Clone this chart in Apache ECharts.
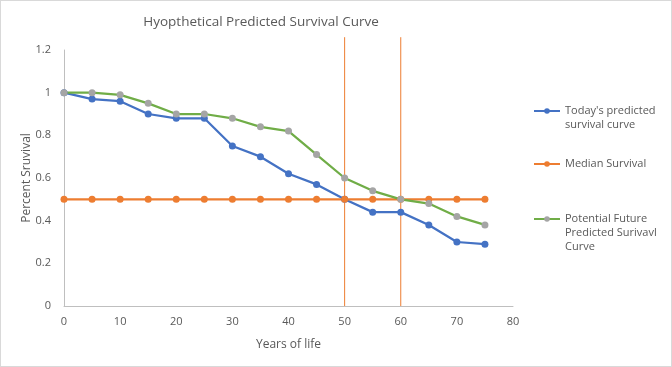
<!DOCTYPE html>
<html><head><meta charset="utf-8">
<script src="https://cdn.jsdelivr.net/npm/echarts@6/dist/echarts.min.js"></script>
<style>html,body{margin:0;padding:0;background:#fff}#c{width:672px;height:367px;box-sizing:border-box;border:1px solid #d9d9d9}</style>
</head><body><div id="c"></div>
<script>
const years = [0,5,10,15,20,25,30,35,40,45,50,55,60,65,70,75];
const todaySurvival = [1,0.97,0.96,0.9,0.88,0.88,0.75,0.7,0.62,0.57,0.5,0.44,0.44,0.38,0.3,0.29];
const medianSurvival = [0.5,0.5,0.5,0.5,0.5,0.5,0.5,0.5,0.5,0.5,0.5,0.5,0.5,0.5,0.5,0.5];
const futureSurvival = [1,1,0.99,0.95,0.9,0.9,0.88,0.84,0.82,0.71,0.6,0.54,0.5,0.48,0.42,0.38];
const markerYears = [50,60];
const markerTop = 1.26;

const font = '"Open Sans", "Liberation Sans", sans-serif';
const txt = '#595959';
const pair = (xs, ys) => xs.map((x,i)=>[x,ys[i]]);

const chart = echarts.init(document.getElementById('c'));
const series = [
  {name:"Today's predicted\nsurvival curve", type:'line', data:pair(years,todaySurvival), symbol:'circle', symbolSize:7,
   lineStyle:{color:'#4472C4',width:2.25}, itemStyle:{color:'#4472C4'}, z:3},
  {name:'Median Survival', type:'line', data:pair(years,medianSurvival), symbol:'circle', symbolSize:7,
   lineStyle:{color:'#ED7D31',width:2.25}, itemStyle:{color:'#ED7D31'}, z:3},
  {name:'Potential Future\nPredicted Surivavl\nCurve', type:'line', data:pair(years,futureSurvival), symbol:'circle', symbolSize:7,
   lineStyle:{color:'#70AD47',width:2.25}, itemStyle:{color:'#A5A5A5'}, z:3}
];
markerYears.forEach(x=>{
  series.push({type:'line', data:[[x,0],[x,markerTop]], symbol:'none', clip:false, silent:true,
    lineStyle:{color:'#ED7D31',width:1}, z:2});
});
const legText = {fontFamily:font, fontSize:11, color:txt, lineHeight:14};
chart.setOption({
  animation:false,
  title:{text:'Hyopthetical Predicted Survival Curve', left:255, top:9, textAlign:'center',
    textStyle:{fontFamily:font, fontWeight:'normal', fontSize:13.5, color:txt}},
  grid:{left:63, right:158, top:49, bottom:60},
  xAxis:{type:'value', min:0, max:80, interval:10, name:'Years of life', nameLocation:'middle', nameGap:33,
    nameMoveOverlap:false,
    nameTextStyle:{fontFamily:font, fontSize:12, color:txt},
    axisLine:{lineStyle:{color:'#bfbfbf'}}, axisTick:{show:false}, splitLine:{show:false},
    axisLabel:{fontFamily:font, fontSize:11, color:txt, margin:10}},
  yAxis:{type:'value', min:0, max:1.2, interval:0.2, name:'Percent Sruvival', nameLocation:'middle', nameGap:31,
    nameMoveOverlap:false,
    nameTextStyle:{fontFamily:font, fontSize:12, color:txt},
    axisLine:{show:true, lineStyle:{color:'#bfbfbf'}}, axisTick:{show:false}, splitLine:{show:false},
    axisLabel:{fontFamily:font, fontSize:11, color:txt, margin:13, formatter:v=>String(+v.toFixed(1))}},
  legend:[
    {data:[series[0].name], left:527, top:84, itemWidth:26, itemHeight:7,
      formatter:n=>'\n'+n, textStyle:legText},
    {data:[series[1].name], left:527, top:151, itemWidth:26, itemHeight:7, textStyle:legText},
    {data:[series[2].name], left:527, top:178, itemWidth:26, itemHeight:7,
      formatter:n=>'\n\n'+n, textStyle:legText}
  ],
  series:series
});
</script></body></html>
